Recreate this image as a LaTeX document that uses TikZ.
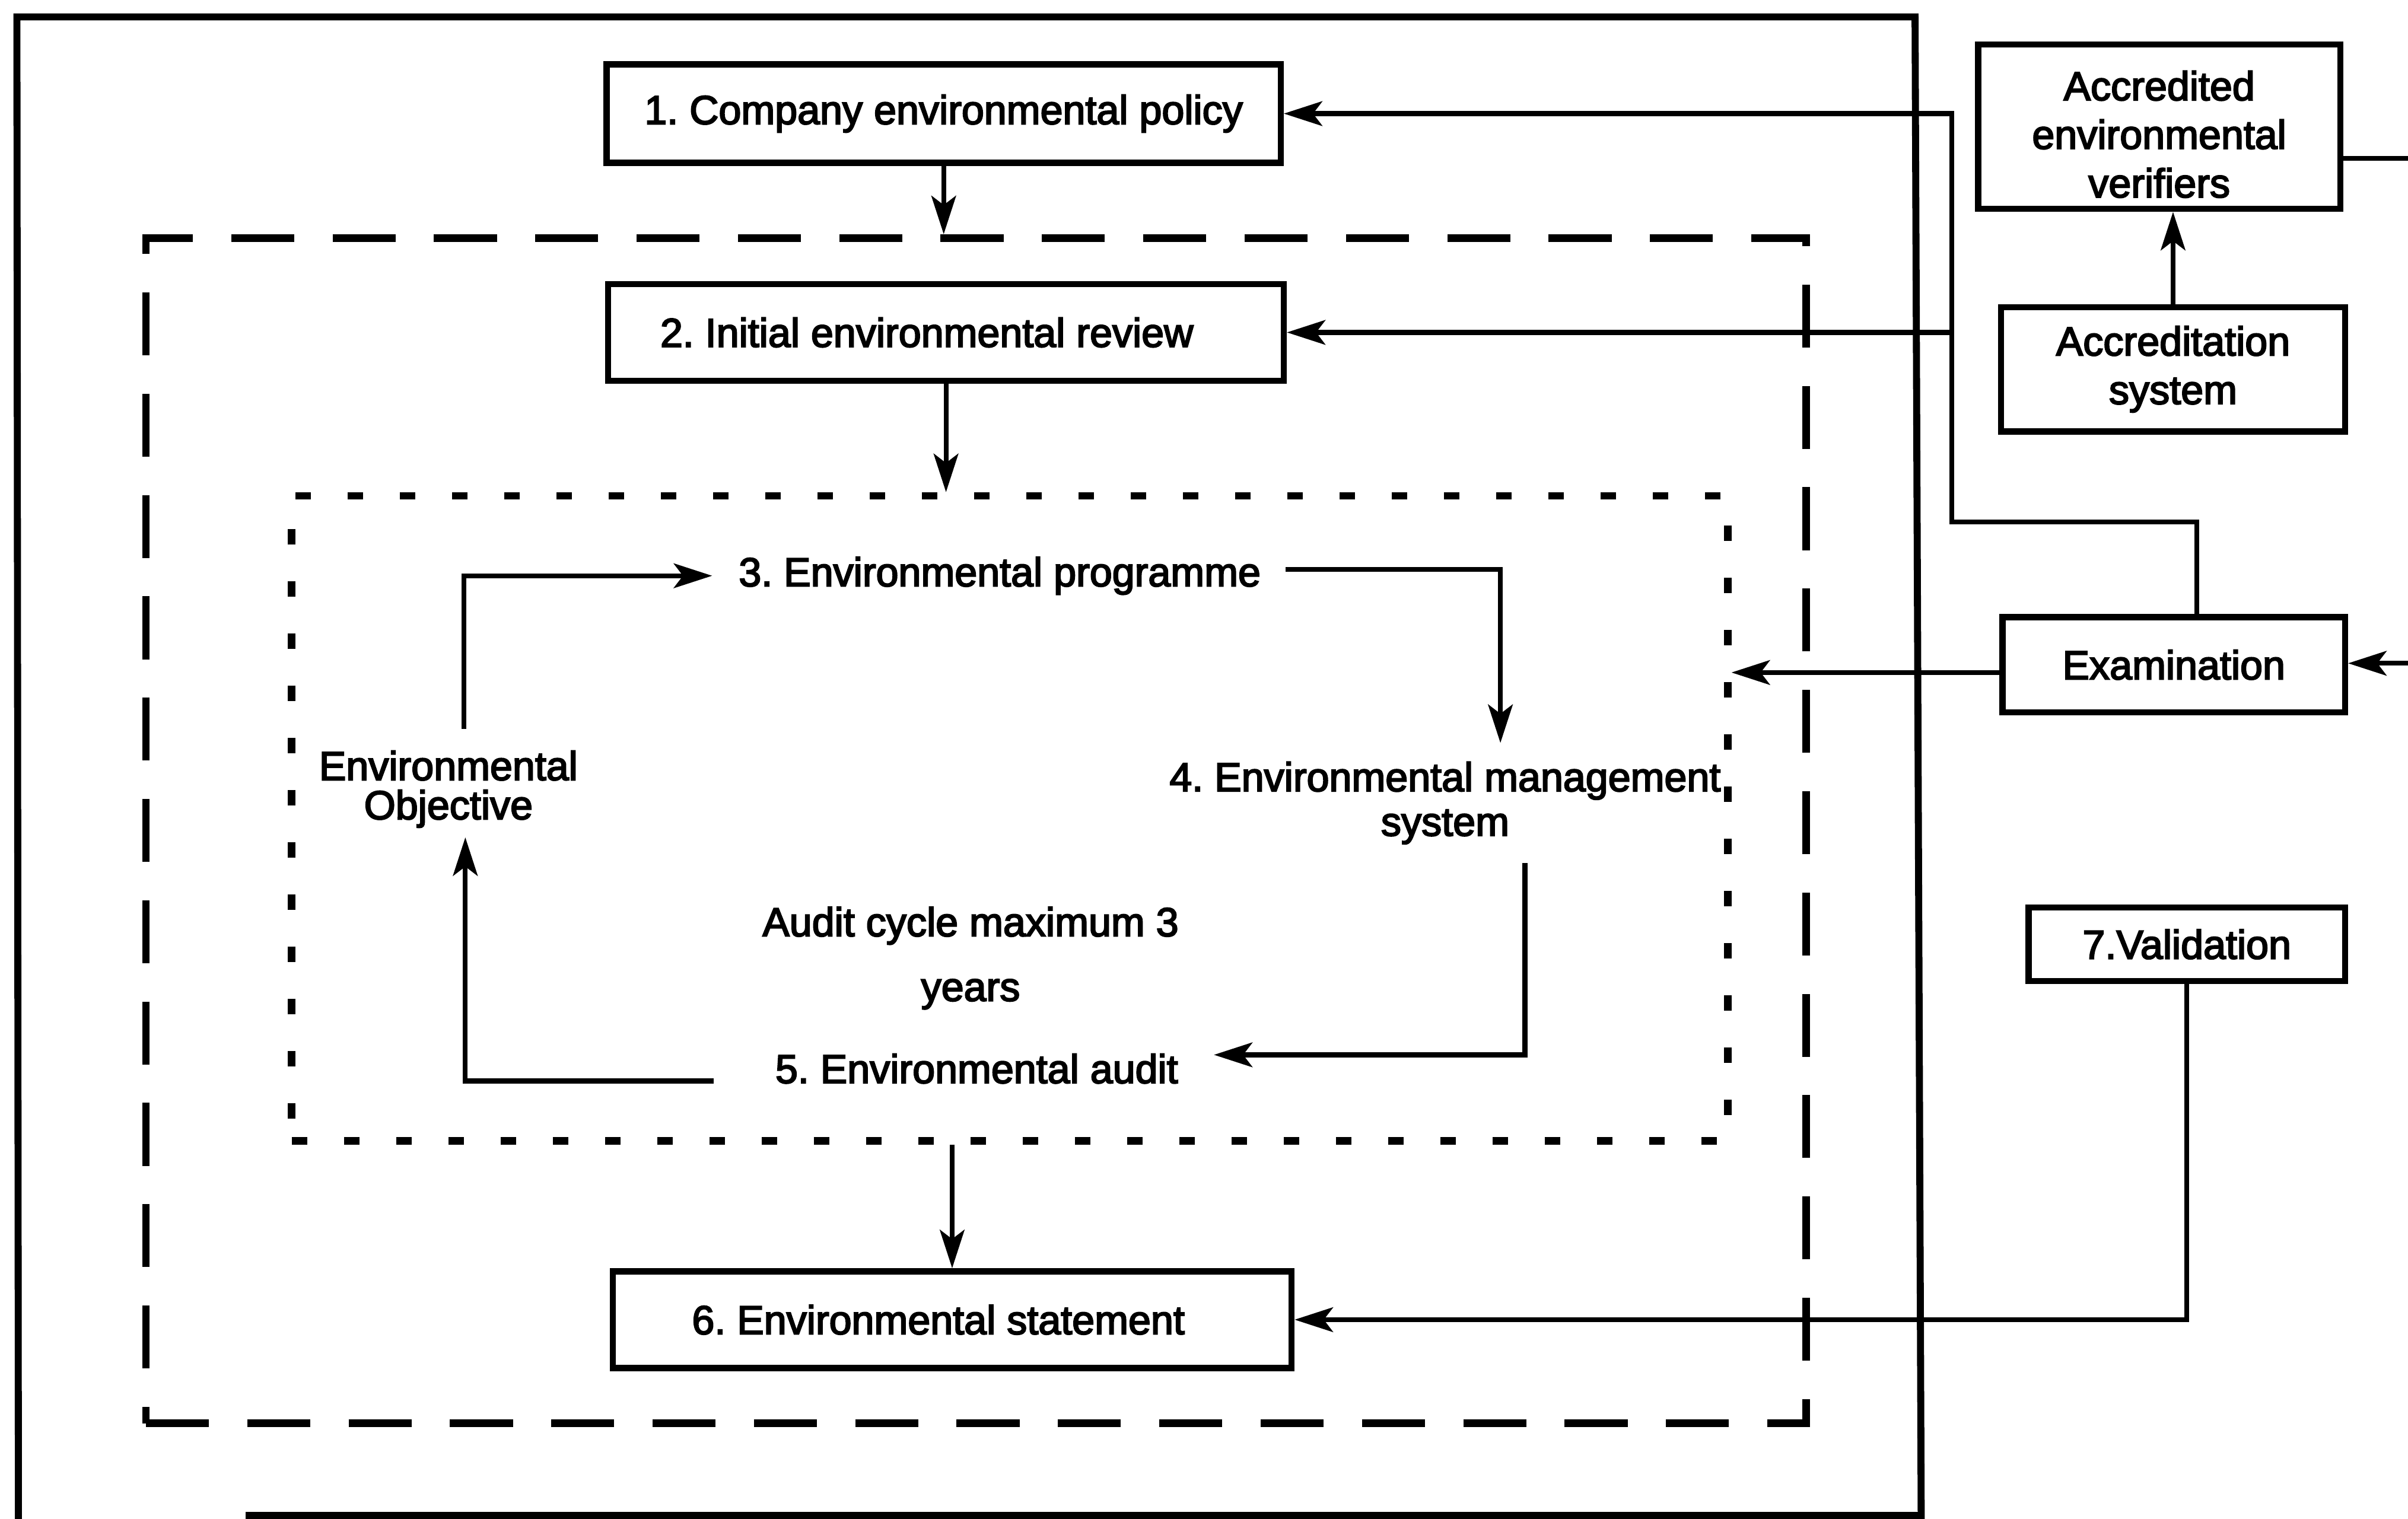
\documentclass[tikz,border=0pt]{standalone}
\usepackage{fontspec}
\setmainfont{Liberation Sans}[FakeBold=3.2]
\usetikzlibrary{arrows.meta,fit,calc}
\begin{document}
\frenchspacing
\begin{tikzpicture}[x=0.02cm,y=-0.02cm,
  every node/.style={font=\fontsize{15pt}{17pt}\selectfont},
  box/.style={draw,line width=2.3pt,inner sep=0pt,anchor=center},
  lbl/.style={inner sep=0pt,align=center},
  conn/.style={line width=1.8pt},
  arr/.style={conn,-{Stealth[length=5mm,width=3.2mm,inset=1.2mm]}},
  dashbox/.style={draw,line width=2.8pt,dash pattern=on 0.82cm off 0.5cm,inner sep=0pt},
  dotbox/.style={draw,line width=2.8pt,dash pattern=on 0.2cm off 0.48cm,inner sep=0pt},
  frame/.style={line width=2.6pt}
]
\fill[white] (0,0) rectangle (1568,989);
\useasboundingbox (0,0) rectangle (1568,989);

% outer frame
\draw[frame] (160,987) -- (1251,987) -- (1247,11) -- (11,11) -- (12,992);

% boxes
\node[box, minimum width=8.78cm, minimum height=1.28cm] (b1) at (614.5,74) {1. Company environmental policy};
\node[box, minimum width=8.8cm, minimum height=1.26cm] (b2) at (616,216.5) {2. Initial environmental review\hspace*{0.5cm}};
\node[box, minimum width=8.84cm, minimum height=1.26cm] (b6) at (620,859.5) {6. Environmental statement\hspace*{0.36cm}};
\node[box, minimum width=4.72cm, minimum height=2.14cm, font=\fontsize{15pt}{18pt}\selectfont] (acv) at (1406,82.5) {\raisebox{-0.1cm}[\height][\depth]{\parbox{4.5cm}{\centering Accredited\\environmental\\verifiers}}};
\node[box, minimum width=4.48cm, minimum height=1.62cm, align=center, font=\fontsize{15pt}{18pt}\selectfont] (acs) at (1415,240.5) {Accreditation\\system};
\node[box, minimum width=4.46cm, minimum height=1.24cm] (exam) at (1415.5,433) {Examination};
\node[box, minimum width=4.12cm, minimum height=0.96cm] (val) at (1424,615) {7.Validation};
\node[dashbox, fit={(95,155)(1176,927)}] (dash) {};
\node[dotbox, fit={(190,323)(1125,743)}] (dot) {};

% inner labels
\node[lbl] (prog) at (651,375) {3. Environmental programme};
\node[lbl, font=\fontsize{15pt}{14.5pt}\selectfont] (obj) at (292,514) {Environmental\\Objective};
\node[lbl, font=\fontsize{15pt}{16.5pt}\selectfont] (ems) at (941,523) {4. Environmental management\\system};
\node[lbl] (audit) at (636,696) {5. Environmental audit};
\node[lbl, font=\fontsize{15pt}{24pt}\selectfont] (cyc) at (632,624) {Audit cycle maximum 3\\years};

% main vertical flow
\draw[arr] (b1.south) -- (b1.south |- dash.north);
\draw[arr] (b2.south) -- (b2.south |- dot.north);
\draw[arr] (b6.north |- dot.south) -- (b6.north);

% cycle
\draw[arr] ($(obj.north)+(10,-14)$) |- ($(prog.west)+(-17,0)$);
\draw[arr] ($(prog.east)+(16,-4)$) -| ($(ems.north)+(36,-12)$);
\draw[arr] ($(ems.south)+(52,12)$) |- ($(audit.east)+(23,-9)$);
\draw[arr] ($(audit.west)+(-40,8)$) -| ($(obj.south)+(11,6)$);

% right side
\draw[arr] (acs.north) -- (acs.north |- acv.south);
\coordinate (edgeA) at (1570,103);
\draw[conn] (acv.east |- edgeA) -- (edgeA);
\coordinate (edgeB) at (1570,432);
\draw[arr] (edgeB) -- (edgeB -| exam.east);
\coordinate (ex) at ($(exam.west)+(0,5)$);
\draw[arr] (ex) -- (ex -| dot.east);
\coordinate (bus) at (1271,340);
\draw[arr] ($(exam.north)+(15,0)$) |- (bus) |- (b1.east);
\draw[arr] (bus |- b2.east) -- (b2.east);
\draw[arr] (val.south) |- (b6.east);
\end{tikzpicture}
\end{document}
